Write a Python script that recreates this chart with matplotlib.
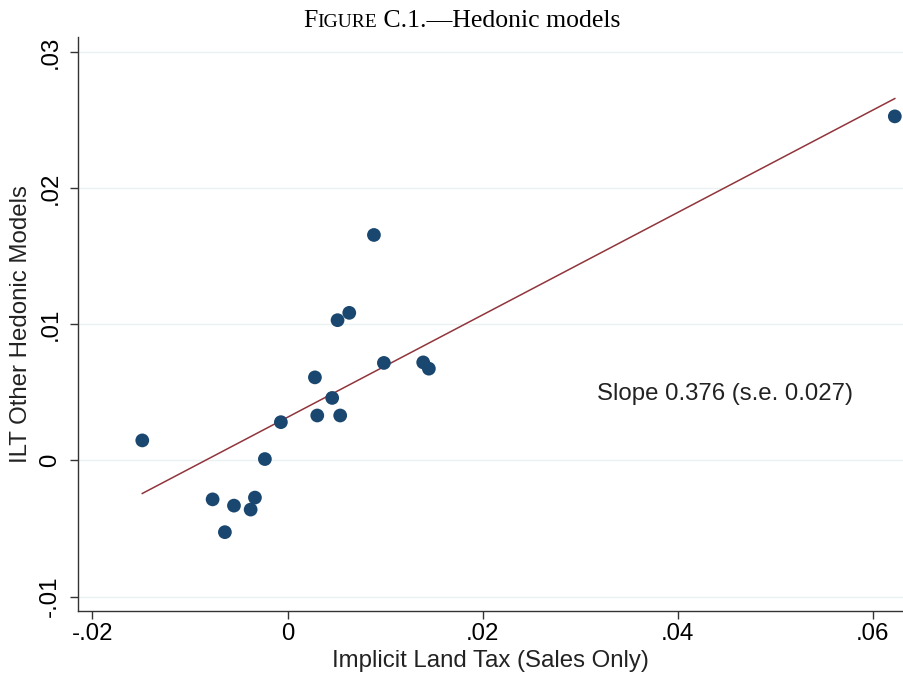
import numpy as np
import matplotlib
matplotlib.use("Agg")
import matplotlib.pyplot as plt

# Data
x_ilt_sales = [-0.01489, -0.00768, -0.00549, -0.00642, -0.00378, -0.00334, -0.00232,
               -0.00068, 0.00281, 0.00305, 0.00458, 0.00540, 0.00513, 0.00633,
               0.00988, 0.01391, 0.01449, 0.00886, 0.06226]
y_ilt_other = [0.00147, -0.00286, -0.00332, -0.00527, -0.00361, -0.00273, 0.00010,
               0.00281, 0.00610, 0.00330, 0.00459, 0.00330, 0.01030, 0.01084,
               0.00716, 0.00720, 0.00674, 0.01656, 0.02527]
fit_slope = 0.376
fit_intercept = 0.00317
x_ticks = [-0.02, 0.0, 0.02, 0.04, 0.06]
x_ticklabels = ["-.02", "0", ".02", ".04", ".06"]
y_ticks = [-0.01, 0.0, 0.01, 0.02, 0.03]
y_ticklabels = ["-.01", "0", ".01", ".02", ".03"]
annotation = "Slope 0.376 (s.e. 0.027)"

navy = "#1a476f"
maroon = "#90353b"
grid_col = "#eaf2f3"

plt.rcParams['font.family'] = ['Liberation Sans', 'DejaVu Sans']

fig = plt.figure(figsize=(9.04, 6.77), dpi=100)
ax = fig.add_axes([78/904, 1 - 611/677, 825/904, (611 - 37)/677])

x = np.array(x_ilt_sales)
y = np.array(y_ilt_other)
xl = np.array([x.min(), x.max()])
ax.plot(xl, fit_intercept + fit_slope * xl, color=maroon, lw=1.1, zorder=2)
ax.scatter(x, y, s=98, color=navy, edgecolors='none', zorder=3)

ax.set_xlim(-0.02148, 0.0631)
ax.set_ylim(-0.01106, 0.0311)
ax.set_xticks(x_ticks)
ax.set_xticklabels(x_ticklabels, fontsize=17.3)
ax.set_yticks(y_ticks)
ax.set_yticklabels(y_ticklabels, fontsize=17.3, rotation=90, va='center')
ax.tick_params(direction='out', length=6, width=1, color='#333333')
ax.tick_params(axis='x', pad=3)
ax.tick_params(axis='y', pad=6)
for s in ['top', 'right']:
    ax.spines[s].set_visible(False)
for s in ['left', 'bottom']:
    ax.spines[s].set_color('#333333')
    ax.spines[s].set_linewidth(1)
ax.yaxis.grid(True, color=grid_col, lw=1)
ax.set_axisbelow(True)

ax.set_xlabel("Implicit Land Tax (Sales Only)", fontsize=17.3, labelpad=3, color='#222222')
ax.set_ylabel("ILT Other Hedonic Models", fontsize=17.3, labelpad=5, color='#222222')

ax.text(0.0449, 0.0049, annotation, fontsize=17.3, ha='center', va='center', color='#222222')

# Title with small caps "FIGURE"
ser = ['Liberation Serif', 'DejaVu Serif']
fig.canvas.draw()
r = fig.canvas.get_renderer()
parts = [("F", 18.5), ("IGURE", 14), (" C.1.\u2014Hedonic models", 18.5)]
widths = []
objs = []
for s, fs in parts:
    t = fig.text(0, 0, s, fontsize=fs, family=ser)
    objs.append(t)
    widths.append(t.get_window_extent(r).width)
total = sum(widths)
x0 = 462 - total / 2
ybase = 677 - 27
for t, w in zip(objs, widths):
    t.set_position((x0 / 904, ybase / 677))
    t.set_va('baseline')
    x0 += w

fig.savefig("out.png", dpi=100)
